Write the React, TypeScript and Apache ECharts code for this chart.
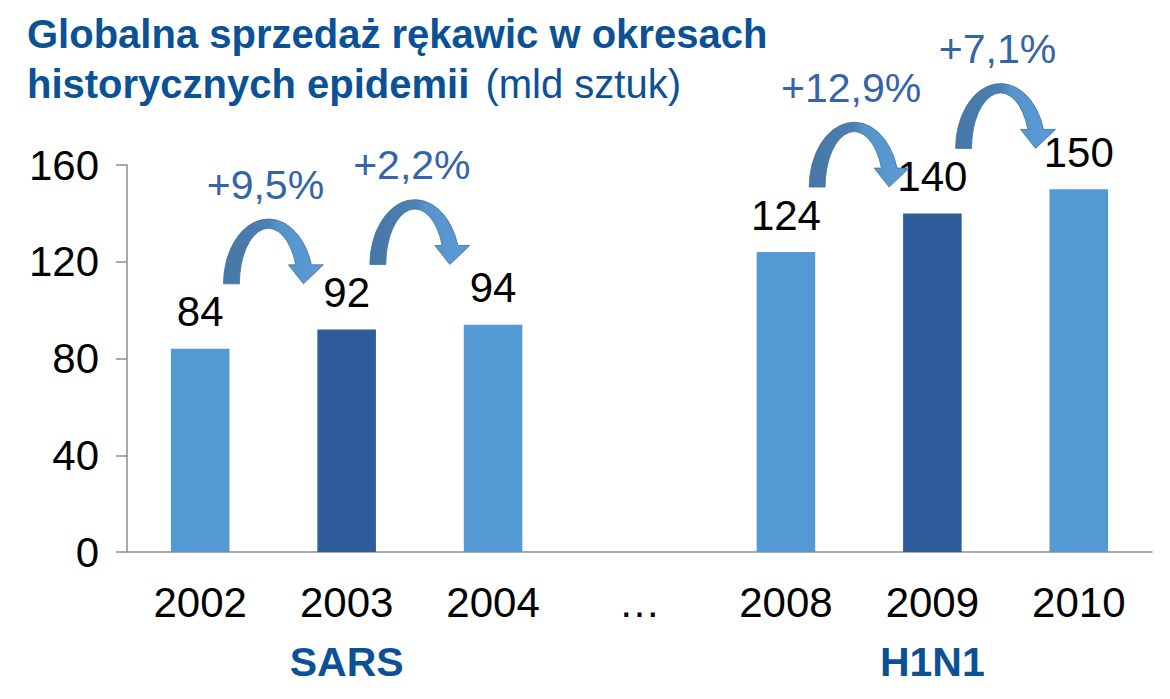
import React, { useEffect, useRef } from "react";
import * as echarts from "echarts";

const categories = ["2002", "2003", "2004", "…", "2008", "2009", "2010"];
const sales = [84, 92, 94, null, 124, 140, 150];
const highlighted = ["2003", "2009"];
const epidemicLabels: Record<string, string> = { "2003": "SARS", "2009": "H1N1" };
const growthFrom = [0, 1, 4, 5];
const growthTo = [1, 2, 5, 6];
const growthLabels = ["+9,5%", "+2,2%", "+12,9%", "+7,1%"];
const yTicks = { min: 0, max: 160, interval: 40 };

const FONT = "'Liberation Sans', Arial, Helvetica, sans-serif";
const LIGHT = "#5599d4";
const DARK = "#2f5d9b";
const TITLE_BLUE = "#0b5195";
const PCT_BLUE = "#3564a8";

const ARROW =
  "M -50 0 A 45 65 0 0 1 38 -19 L 50 -19 L 30 0 L 15 -19 L 22.3 -19 A 29 55 0 0 0 -34 0 Z";

export default function App() {
  const ref = useRef<HTMLDivElement>(null);
  useEffect(() => {
    if (!ref.current) return;
    const chart = echarts.init(ref.current, null, { renderer: "svg" });
    const arrowData = growthFrom.map((f, i) => [f, growthTo[i], sales[f] as number]);
    chart.setOption({
      animation: false,
      backgroundColor: "#ffffff",
      title: {
        left: 27,
        top: 9,
        padding: 0,
        text:
          "{b|Globalna sprzedaż rękawic w okresach}\n{b|historycznych epidemii} {n| (mld sztuk)}",
        textStyle: {
          rich: {
            b: { fontFamily: FONT, fontSize: 40, fontWeight: "bold", color: TITLE_BLUE, lineHeight: 50 },
            n: { fontFamily: FONT, fontSize: 40, fontWeight: "normal", color: TITLE_BLUE, lineHeight: 50 },
          },
        },
      },
      grid: { left: 127, right: 18, top: 165, bottom: 147 },
      xAxis: {
        type: "category",
        data: categories,
        axisLine: { show: true, lineStyle: { color: "#8c8c8c", width: 1.5 } },
        axisTick: { show: false },
        axisLabel: {
          margin: 20,
          fontFamily: FONT,
          fontSize: 42,
          color: "#000",
          lineHeight: 60,
          interval: 0,
          formatter: (v: string) => (epidemicLabels[v] ? `${v}\n{g|${epidemicLabels[v]}}` : v),
          rich: {
            g: { fontFamily: FONT, fontSize: 41, fontWeight: "bold", color: TITLE_BLUE, lineHeight: 60 },
          },
        },
      },
      yAxis: {
        type: "value",
        min: yTicks.min,
        max: yTicks.max,
        interval: yTicks.interval,
        splitLine: { show: false },
        axisLine: { show: true, lineStyle: { color: "#8c8c8c", width: 1.5 } },
        axisTick: { show: true, length: 11, lineStyle: { color: "#8c8c8c", width: 1.5 } },
        axisLabel: { margin: 28, fontFamily: FONT, fontSize: 42, color: "#000" },
      },
      series: [
        {
          type: "bar",
          barWidth: "40%",
          data: sales.map((v, i) => ({
            value: v,
            itemStyle: { color: highlighted.includes(categories[i]) ? DARK : LIGHT },
          })),
          label: {
            show: true,
            position: "top",
            distance: 16,
            fontFamily: FONT,
            fontSize: 42,
            color: "#000",
          },
        },
        {
          type: "custom",
          z: 10,
          silent: true,
          data: arrowData,
          encode: { x: 0, y: 2 },
          renderItem: (params: any, api: any) => {
            const from = api.value(0);
            const to = api.value(1);
            const p1 = api.coord([from, api.value(2)]);
            const p2 = api.coord([to, 0]);
            const cx = (p1[0] + p2[0]) / 2;
            const by = p1[1] - 65;
            return {
              type: "group",
              x: cx,
              y: by,
              children: [
                {
                  type: "path",
                  shape: { pathData: ARROW },
                  style: {
                    fill: new echarts.graphic.LinearGradient(0, 0, 1, 0, [
                      { offset: 0, color: "#4677a6" },
                      { offset: 0.45, color: "#4b80b2" },
                      { offset: 0.55, color: "#5593cb" },
                      { offset: 1, color: "#5b9bd5" },
                    ]),
                    stroke: "#41719c",
                    lineWidth: 0.8,
                  },
                },
                {
                  type: "text",
                  x: -8,
                  y: -99,
                  style: {
                    text: growthLabels[params.dataIndex],
                    fontFamily: FONT,
                    fontSize: 41,
                    fill: PCT_BLUE,
                    align: "center",
                    verticalAlign: "middle",
                  },
                },
              ],
            };
          },
        },
      ],
    });
    return () => chart.dispose();
  }, []);
  return (
    <div
      ref={ref}
      style={{ position: "fixed", left: 0, top: 0, width: 1170, height: 699, background: "#fff" }}
    />
  );
}
